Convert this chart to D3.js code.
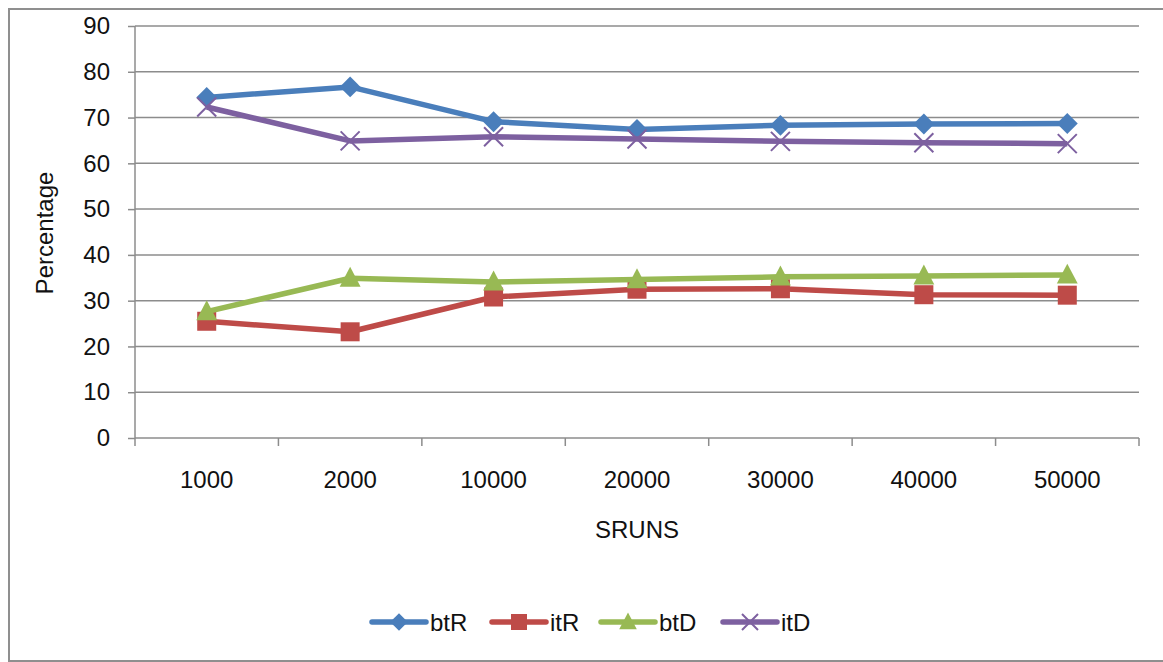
<!DOCTYPE html>
<html><head><meta charset="utf-8">
<script src="https://cdn.jsdelivr.net/npm/d3@7"></script>
<style>body{margin:0;background:#fff;} svg{display:block;}</style>
</head><body>
<svg id="c" width="1163" height="662"></svg>
<script>
const categories = ["1000","2000","10000","20000","30000","40000","50000"];
const btR = [74.4, 76.7, 69.1, 67.4, 68.3, 68.6, 68.7];
const itR = [25.5, 23.2, 30.8, 32.5, 32.6, 31.3, 31.2];
const btD = [27.6, 34.9, 34.1, 34.6, 35.2, 35.4, 35.6];
const itD = [72.3, 64.9, 65.8, 65.3, 64.8, 64.5, 64.3];
const yTicks = [0,10,20,30,40,50,60,70,80,90];
const seriesNames = ["btR","itR","btD","itD"];
const seriesColors = ["#4a7ebb","#be4b48","#98b954","#7d60a0"];
const seriesShapes = ["diamond","square","triangle","x"];
const seriesData = [btR, itR, btD, itD];

const svg = d3.select("#c");
const font = "'Liberation Sans', Arial, sans-serif";
const fs = 24;
const L = 135, R = 1139, T = 26, B = 438;
const x = d3.scaleBand().domain(categories).range([L, R]);
const y = d3.scaleLinear().domain([0, 90]).range([B, T]);
const grey = "#8c8c8c";

// outer border
svg.append("path").attr("d", `M1163,9 H9 V661 H1163`).attr("fill","none").attr("stroke","#8f8f8f").attr("stroke-width",2);

// gridlines
svg.append("g").selectAll("line").data(yTicks.filter(d=>d>0)).join("line")
  .attr("x1", L).attr("x2", R).attr("y1", d=>y(d)).attr("y2", d=>y(d))
  .attr("stroke", grey).attr("stroke-width", 1.5);

// y axis
const ya = svg.append("g").attr("transform", `translate(${L},0)`)
  .call(d3.axisLeft(y).tickValues(yTicks).tickSize(7).tickPadding(18));
ya.select(".domain").attr("stroke", grey).attr("stroke-width", 1.5).attr("d", `M0,${T}V${B}`);
ya.selectAll(".tick line").attr("stroke", grey).attr("stroke-width", 1.5);
ya.selectAll("text").attr("font-family", font).attr("font-size", fs).attr("fill", "#111");

// x axis
const xa = svg.append("g").attr("transform", `translate(0,${B})`)
  .call(d3.axisBottom(x).tickSize(0).tickPadding(33));
xa.select(".domain").attr("stroke", grey).attr("stroke-width", 1.5).attr("d", `M${L},0H${R}`);
xa.selectAll("text").attr("font-family", font).attr("font-size", fs).attr("fill", "#111");
const bounds = categories.map(c => x(c)).concat([R]);
svg.append("g").selectAll("line").data(bounds).join("line")
  .attr("x1", d=>d).attr("x2", d=>d).attr("y1", B).attr("y2", B+8)
  .attr("stroke", grey).attr("stroke-width", 1.5);

// axis titles
svg.append("text").attr("x", 637).attr("y", 538).attr("text-anchor","middle")
  .attr("font-family", font).attr("font-size", fs).attr("fill","#111").text("SRUNS");
svg.append("text").attr("transform","translate(53,233) rotate(-90)").attr("text-anchor","middle")
  .attr("font-family", font).attr("font-size", fs).attr("fill","#111").text("Percentage");

function marker(g, shape, color, cx, cy, s) {
  if (shape === "diamond") {
    g.append("path").attr("d", `M${cx},${cy-s*0.55}L${cx+s*0.55},${cy}L${cx},${cy+s*0.55}L${cx-s*0.55},${cy}Z`).attr("fill", color);
  } else if (shape === "square") {
    g.append("rect").attr("x", cx-s/2).attr("y", cy-s/2).attr("width", s).attr("height", s).attr("fill", color);
  } else if (shape === "triangle") {
    g.append("path").attr("d", `M${cx},${cy-s*0.6}L${cx+s*0.55},${cy+s*0.45}L${cx-s*0.55},${cy+s*0.45}Z`).attr("fill", color);
  } else {
    const h = s*0.5;
    g.append("path").attr("d", `M${cx-h},${cy-h}L${cx+h},${cy+h}M${cx-h},${cy+h}L${cx+h},${cy-h}`)
      .attr("stroke", color).attr("stroke-width", 2).attr("fill","none");
  }
}

const cx = c => x(c) + x.bandwidth()/2;
const line = d3.line().x((d,i)=>cx(categories[i])).y(d=>y(d));
seriesData.forEach((data, k) => {
  const g = svg.append("g");
  g.append("path").datum(data).attr("d", line).attr("fill","none")
    .attr("stroke", seriesColors[k]).attr("stroke-width", 5.5).attr("stroke-linejoin","round");
  data.forEach((v,i) => marker(g, seriesShapes[k], seriesColors[k], cx(categories[i]), y(v), 19));
});

// legend
const legX = [372, 492, 601, 723];
const legY = 622;
seriesNames.forEach((n, k) => {
  const g = svg.append("g");
  g.append("line").attr("x1", legX[k]).attr("x2", legX[k]+54).attr("y1", legY).attr("y2", legY)
    .attr("stroke", seriesColors[k]).attr("stroke-width", 5.5).attr("stroke-linecap","round");
  marker(g, seriesShapes[k], seriesColors[k], legX[k]+27, legY, 16);
  g.append("text").attr("x", legX[k]+58).attr("y", legY+9).attr("font-family", font).attr("font-size", fs)
    .attr("fill","#111").text(n);
});
</script>
</body></html>
